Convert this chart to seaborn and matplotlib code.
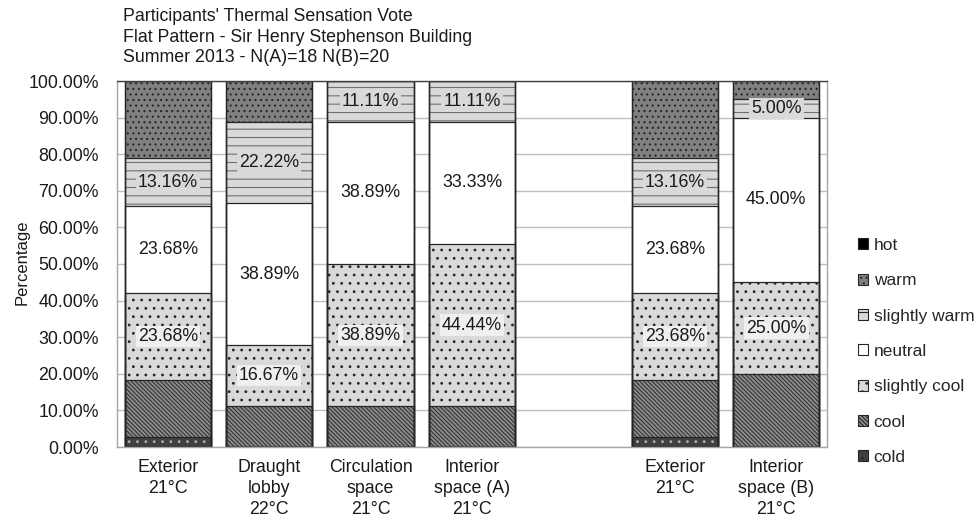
import numpy as np
import pandas as pd
import matplotlib.pyplot as plt
import seaborn as sns
from matplotlib.patches import Patch

# data (percent of votes)
order = ["Exterior (A)", "Draught lobby", "Circulation space", "Interior space (A)",
         "gap", "Exterior (B)", "Interior space (B)"]
tick_labels = ["Exterior\n21°C", "Draught\nlobby\n22°C", "Circulation\nspace\n21°C",
               "Interior\nspace (A)\n21°C", "", "Exterior\n21°C", "Interior\nspace (B)\n21°C"]
locations = ["Exterior (A)", "Draught lobby", "Circulation space", "Interior space (A)",
             "Exterior (B)", "Interior space (B)"]
cold = [2.63, 0, 0, 0, 2.63, 0]
cool = [15.79, 11.11, 11.11, 11.11, 15.79, 20.00]
slightly_cool = [23.68, 16.67, 38.89, 44.44, 23.68, 25.00]
neutral = [23.68, 38.89, 38.89, 33.33, 23.68, 45.00]
slightly_warm = [13.16, 22.22, 11.11, 11.11, 13.16, 5.00]
warm = [21.05, 11.11, 0, 0, 21.05, 5.00]
hot = [0, 0, 0, 0, 0, 0]

levels = ["cold", "cool", "slightly cool", "neutral", "slightly warm", "warm", "hot"]
df = pd.DataFrame({"location": locations, "cold": cold, "cool": cool,
                   "slightly cool": slightly_cool, "neutral": neutral,
                   "slightly warm": slightly_warm, "warm": warm, "hot": hot})
cum = df[levels].cumsum(axis=1)

# face colour, hatch, hatch colour
styles = {
    "hot": ("#000000", "", "#000000"),
    "warm": ("#808080", "...", "#262626"),
    "slightly warm": ("#d9d9d9", "--", "#6e6e6e"),
    "neutral": ("#ffffff", "", "#ffffff"),
    "slightly cool": ("#d9d9d9", "..", "#262626"),
    "cool": ("#8c8c8c", "\\" * 8, "#333333"),
    "cold": ("#404040", "..", "#b0b0b0"),
}

FS = 12.8

sns.set_theme(style="white")
plt.rcParams['font.family'] = ['Liberation Sans', 'DejaVu Sans']
plt.rcParams['hatch.linewidth'] = 0.8

fig = plt.figure(figsize=(9.77, 5.2), dpi=100)
ax = fig.add_axes([117 / 977, 1 - 447 / 520, 710 / 977, 366 / 520])

# stacked bars drawn as cumulative bars, tallest first
for lev in reversed(levels):
    fc, hatch, hc = styles[lev]
    d = pd.DataFrame({"location": df["location"], "h": cum[lev]})
    sns.barplot(data=d, x="location", y="h", order=order, color=fc, hatch=hatch,
                edgecolor=hc, linewidth=0, width=0.85, saturation=1,
                errorbar=None, ax=ax)
for lev in reversed(levels):
    d = pd.DataFrame({"location": df["location"], "h": cum[lev]})
    sns.barplot(data=d, x="location", y="h", order=order, facecolor="none",
                edgecolor="#262626", linewidth=0.9, width=0.85,
                errorbar=None, ax=ax)

# value labels
boxes = {"slightly cool": "#efefef", "neutral": None, "slightly warm": "#d9d9d9"}
for i, loc in enumerate(locations):
    xi = order.index(loc)
    for lev, bc in boxes.items():
        v = df.loc[i, lev]
        mid = cum.loc[i, lev] - v / 2
        bbox = dict(facecolor=bc, edgecolor="none", pad=1.5) if bc else None
        ax.text(xi, mid, f"{v:.2f}%", ha="center", va="center", fontsize=FS,
                color="#1a1a1a", bbox=bbox)

ax.set_ylim(0, 100)
ax.set_xlim(-0.5, 6.5)
ax.set_yticks(np.arange(0, 101, 10))
ax.set_yticklabels([f"{v:.2f}%" for v in np.arange(0, 101, 10)])
ax.set_xticks(range(len(order)))
ax.set_xticklabels(tick_labels)
for t in ax.get_xticklabels():
    t.set_linespacing(1.28)
ax.tick_params(axis="both", length=0, labelsize=FS, colors="#1a1a1a")
ax.tick_params(axis="y", pad=13)
ax.tick_params(axis="x", pad=9)
ax.set_xlabel("")
ax.set_ylabel("")
ax.yaxis.grid(True, color="#bfbfbf", linewidth=1)
ax.xaxis.grid(False)
ax.set_axisbelow(True)
for side in ["left", "right", "bottom"]:
    ax.spines[side].set_color("#a6a6a6")
    ax.spines[side].set_linewidth(1)
ax.spines["top"].set_color("#404040")
ax.spines["top"].set_linewidth(1)

fig.text(22 / 977, 1 - 262 / 520, "Percentage", rotation=90, ha="center",
         va="center", fontsize=12, color="#1a1a1a")
fig.text(123 / 977, 1 - 8 / 520,
         "Participants' Thermal Sensation Vote\nFlat Pattern - Sir Henry Stephenson Building\n"
         "Summer 2013 - N(A)=18 N(B)=20",
         ha="left", va="top", fontsize=FS, linespacing=1.28, color="#1a1a1a")

legend_order = ["hot", "warm", "slightly warm", "neutral", "slightly cool", "cool", "cold"]
handles = [Patch(facecolor=styles[k][0], hatch=styles[k][1], edgecolor="#262626",
                 linewidth=0.8) for k in legend_order]
fig.legend(handles, legend_order, loc="upper left", bbox_to_anchor=(851 / 977, 1 - 231 / 520),
           frameon=False, fontsize=12.5, handlelength=0.6, handleheight=0.6,
           handletextpad=0.3, labelspacing=1.17, borderaxespad=0)

fig.savefig("out.png", dpi=100)
